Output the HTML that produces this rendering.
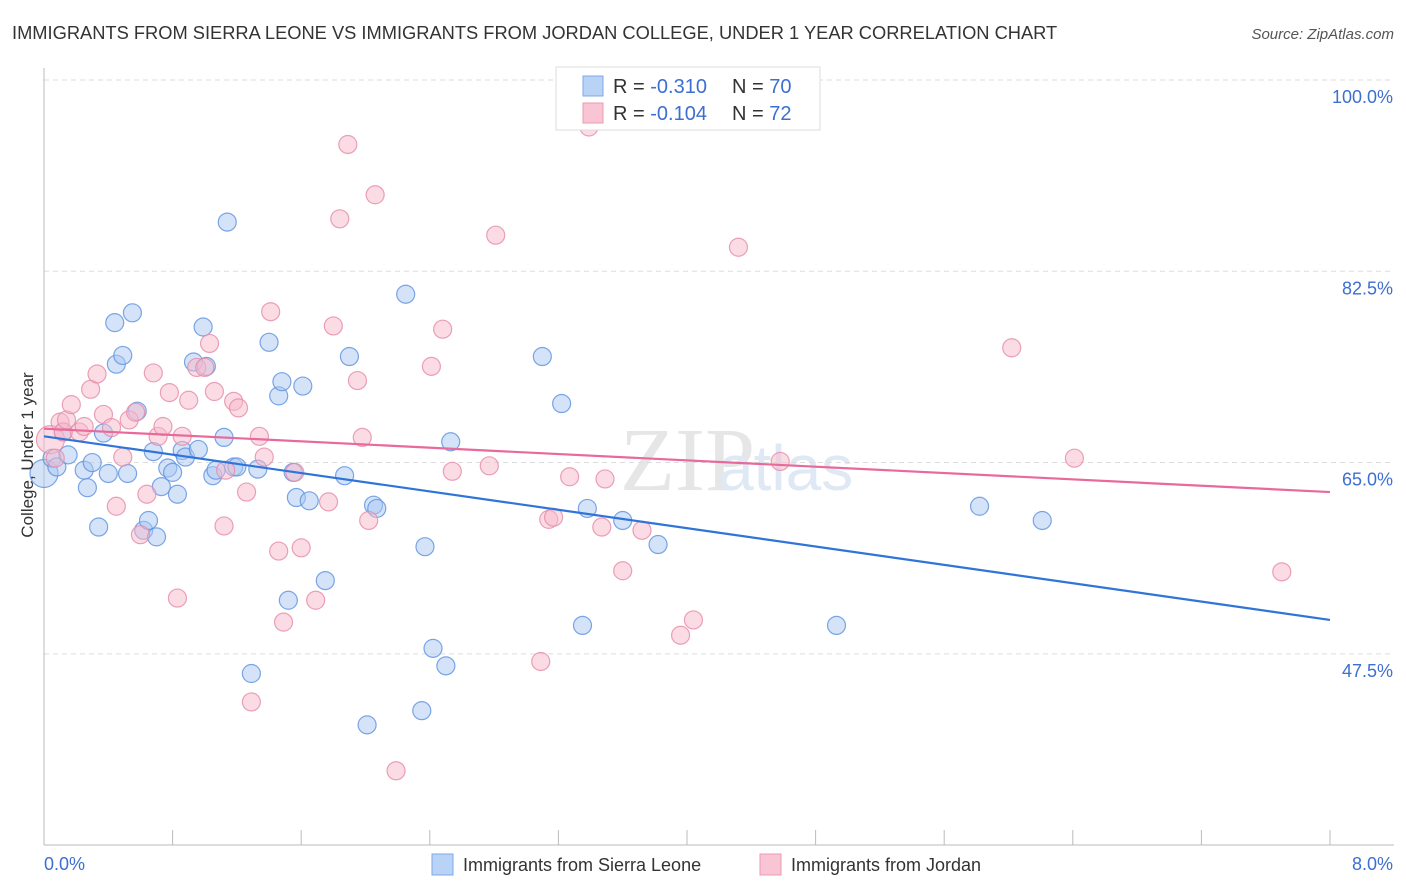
<!DOCTYPE html>
<html><head><meta charset="utf-8"><style>
body{margin:0;background:#fff;font-family:"Liberation Sans",sans-serif;}
svg{display:block}
</style></head><body>
<svg id="chart" width="1406" height="892">
<text x="12" y="39" font-size="18.3" fill="#333">IMMIGRANTS FROM SIERRA LEONE VS IMMIGRANTS FROM JORDAN COLLEGE, UNDER 1 YEAR CORRELATION CHART</text>
<text x="1394" y="39" font-size="15" fill="#555" font-style="italic" text-anchor="end">Source: ZipAtlas.com</text>
<text x="620" y="490" font-size="90" fill="#e6e6e6" font-family="Liberation Serif">ZIP</text>
<text x="718" y="490" font-size="64" fill="#dfe8f5">atlas</text>
<g id="grid"></g><g id="axes"></g><g id="pts"></g><g id="lines"></g>
<text x="33" y="455" font-size="17" fill="#333" text-anchor="middle" transform="rotate(-90 33 455)">College, Under 1 year</text>
<g>
<rect x="556" y="67" width="264" height="63" fill="#fff" stroke="#ddd"/>
<rect x="583" y="76" width="20" height="20" fill="#b8d3f5" stroke="#7fa9e6"/>
<rect x="583" y="103" width="20" height="20" fill="#f9c4d4" stroke="#ea9bb5"/>
<text x="613" y="93" font-size="20" fill="#333">R = <tspan fill="#3d6fd0">-0.310</tspan><tspan x="732">N = </tspan><tspan fill="#3d6fd0">70</tspan></text>
<text x="613" y="120" font-size="20" fill="#333">R = <tspan fill="#3d6fd0">-0.104</tspan><tspan x="732">N = </tspan><tspan fill="#3d6fd0"> 72</tspan></text>
</g>
<g>
<rect x="432" y="854" width="21" height="21" fill="#b8d3f5" stroke="#7fa9e6"/>
<text x="463" y="871" font-size="18" fill="#333">Immigrants from Sierra Leone</text>
<rect x="760" y="854" width="21" height="21" fill="#f9c4d4" stroke="#ea9bb5"/>
<text x="791" y="871" font-size="18" fill="#333">Immigrants from Jordan</text>
</g>
</svg>
<script>
const yTicks=[100,82.5,65,47.5];
const xTickLabels=["0.0%","8.0%"];
const blueX=[0,0.05,0.08,0.12,0.15,0.25,0.27,0.30,0.34,0.37,0.40,0.44,0.45,0.49,0.52,0.55,0.58,0.62,0.65,0.68,0.70,0.73,0.77,0.80,0.83,0.86,0.88,0.93,0.96,0.99,1.01,1.05,1.07,1.12,1.14,1.18,1.20,1.29,1.33,1.40,1.46,1.48,1.52,1.55,1.57,1.61,1.65,1.75,1.87,1.90,2.01,2.05,2.07,2.25,2.37,2.35,2.42,2.50,2.53,3.10,3.22,3.35,3.38,3.60,3.82,4.93,5.82,6.21];
const blueY=[64.0,65.4,64.6,67.8,65.7,64.3,62.7,65.0,59.1,67.7,64.0,77.8,74.0,74.8,64.0,78.7,69.7,58.8,59.7,66.0,58.2,62.8,64.5,64.1,62.1,66.1,65.5,74.2,66.2,77.4,73.8,63.8,64.3,67.3,87.0,64.6,64.6,45.7,64.4,76.0,71.1,72.4,52.4,64.1,61.8,72.0,61.5,54.2,63.8,74.7,41.0,61.1,60.8,80.4,57.3,42.3,48.0,46.4,66.9,74.7,70.4,50.1,60.8,59.7,57.5,50.1,61.0,59.7];
const pinkX=[0.04,0.07,0.10,0.12,0.14,0.17,0.22,0.25,0.29,0.33,0.37,0.42,0.45,0.49,0.53,0.57,0.60,0.64,0.68,0.71,0.74,0.78,0.83,0.86,0.90,0.95,1.00,1.03,1.06,1.12,1.13,1.18,1.21,1.26,1.29,1.34,1.37,1.41,1.46,1.49,1.56,1.60,1.69,1.77,1.80,1.84,1.89,1.95,1.98,2.02,2.06,2.19,2.41,2.48,2.54,2.77,2.81,3.09,3.14,3.17,3.27,3.39,3.47,3.49,3.60,3.72,3.96,4.04,4.32,4.58,6.02,6.41,7.70];
const pinkY=[67.1,65.4,68.7,67.8,68.9,70.3,67.8,68.3,71.7,73.1,69.4,68.2,61.0,65.5,68.9,69.6,58.4,62.1,73.2,67.4,68.3,71.4,52.6,67.4,70.7,73.7,73.7,75.9,71.5,59.2,64.3,70.6,70.0,62.3,43.1,67.4,65.5,78.8,56.9,50.4,64.1,57.2,52.4,61.4,77.5,87.3,94.1,72.5,67.3,59.7,89.5,36.8,73.8,77.2,64.2,64.7,85.8,46.8,59.8,60.0,63.7,95.7,59.1,63.5,55.1,58.8,49.2,50.6,84.7,65.1,75.5,65.4,55.0];
const blueTrend=[67.4,50.6];
const pinkTrend=[68.1,62.3];
const NS="http://www.w3.org/2000/svg";
const X=v=>44+v/8*1286;
const Y=v=>80+(100-v)*10.93;
function mk(p,t,a){const e=document.createElementNS(NS,t);for(const k in a)e.setAttribute(k,a[k]);p.appendChild(e);return e;}
const grid=document.getElementById('grid'),axes=document.getElementById('axes'),pts=document.getElementById('pts'),lines=document.getElementById('lines');
yTicks.forEach(t=>{
 const l=mk(grid,'line',{x1:44,x2:1394,y1:Y(t),y2:Y(t),stroke:'#ddd','stroke-dasharray':'5,4'});
 
 
 const tx=mk(grid,'text',{x:1393,y:Y(t)+23,'font-size':18,fill:'#3d6fd0','text-anchor':'end'});
 tx.textContent=t.toFixed(1)+'%';
 
 
});
mk(axes,'line',{x1:44,x2:44,y1:68,y2:845,stroke:'#bbb'});
mk(axes,'line',{x1:44,x2:1394,y1:845,y2:845,stroke:'#bbb'});
for(let i=0;i<=10;i++){const t=mk(axes,'line',{x1:X(i*0.8),x2:X(i*0.8),y1:830,y2:845,stroke:'#bbb'});
 
 }
const xl0=mk(axes,'text',{x:44,y:870,'font-size':18,fill:'#3d6fd0'});xl0.textContent=xTickLabels[0];


const xl1=mk(axes,'text',{x:1393,y:870,'font-size':18,fill:'#3d6fd0','text-anchor':'end'});xl1.textContent=xTickLabels[1];


function dots(xs,ys,fill,stroke,name){xs.forEach((x,i)=>{const r=(i===0)?14:9;
 const c=mk(pts,'circle',{cx:X(x),cy:Y(ys[i]),r:r,fill:fill,'fill-opacity':0.5,stroke:stroke,'stroke-opacity':0.8,'stroke-width':1.2});
 
 });}
dots(blueX,blueY,'#a9c8f2','#5b91e0','point-sierra-leone');
dots(pinkX,pinkY,'#f7b9cc','#e68aa8','point-jordan');
const bl=mk(lines,'line',{x1:X(0),x2:X(8),y1:Y(blueTrend[0]),y2:Y(blueTrend[1]),stroke:'#2f74d8','stroke-width':2.2});


const pl=mk(lines,'line',{x1:X(0),x2:X(8),y1:Y(pinkTrend[0]),y2:Y(pinkTrend[1]),stroke:'#e8699a','stroke-width':2.2});


</script>
</body></html>
